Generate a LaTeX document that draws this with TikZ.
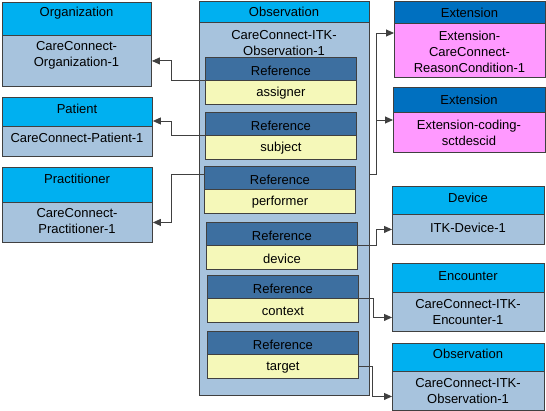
\documentclass[tikz,border=0pt]{standalone}
\usepackage{fontspec}
\setmainfont{Liberation Sans}
\usetikzlibrary{arrows.meta,calc}
\definecolor{hcyan}{HTML}{00B0F0}
\definecolor{bsteel}{HTML}{A7C3DD}
\definecolor{rhead}{HTML}{3D6FA0}
\definecolor{ryel}{HTML}{F5F8B9}
\definecolor{ehead}{HTML}{0070C0}
\definecolor{epink}{HTML}{FF99FF}
\definecolor{edge}{HTML}{404040}
\tikzset{
  bx/.style={draw=edge, line width=0.9pt, anchor=north west, inner sep=0pt},
  hcy/.style={bx, fill=hcyan},
  bst/.style={bx, fill=bsteel},
  rhd/.style={bx, fill=rhead},
  rby/.style={bx, fill=ryel},
  ehd/.style={bx, fill=ehead},
  epk/.style={bx, fill=epink},
  txt/.style={inner sep=0pt, align=center, font=\fontsize{13}{16}\selectfont},
  conn/.style={draw=edge, line width=0.9pt, -{Triangle[length=8pt,width=7pt]}},
}
\begin{document}
\begin{tikzpicture}[x=1pt,y=-1pt]
\useasboundingbox (0,0) rectangle (546,411);
% left boxes
\node[hcy, minimum width=149pt, minimum height=33pt] (orgH) at (2,2) {};
\node[bst, minimum width=149pt, minimum height=51pt] (orgB) at (2,35) {};
\node[txt] (orgHt) at (76.5,13) {Organization};
\node[txt] (orgBt) at (76.5,55) {CareConnect-\\Organization-1};

\node[hcy, minimum width=150pt, minimum height=29pt] (patH) at (2,97) {};
\node[bst, minimum width=150pt, minimum height=30pt] (patB) at (2,126) {};
\node[txt] (patHt) at (77,109) {Patient};
\node[txt] (patBt) at (77,138) {CareConnect-Patient-1};

\node[hcy, minimum width=150pt, minimum height=35pt] (pracH) at (2,167) {};
\node[bst, minimum width=150pt, minimum height=40pt] (pracB) at (2,202) {};
\node[txt] (pracHt) at (77,179) {Practitioner};
\node[txt] (pracBt) at (77,221.5) {CareConnect-\\Practitioner-1};

% main observation
\node[hcy, minimum width=170pt, minimum height=21pt] (obsH) at (199,1) {};
\node[bst, minimum width=170pt, minimum height=373pt] (obsB) at (199,22) {};
\node[txt] (obsHt) at (284,12) {Observation};
\node[txt] (obsBt) at (284,43) {CareConnect-ITK-\\Observation-1};

% references
\foreach \nm/\x/\y/\lab in {assigner/205/57/assigner, subject/205/112/subject, performer/204/166/performer, device/206/222/device, context/207/275/context, target/207/331/target}{
  \node[rhd, minimum width=151pt, minimum height=23pt] (\nm H) at (\x,\y) {};
  \node[rby, minimum width=151pt, minimum height=24pt] (\nm B) at (\x,\y+23) {};
  \node[txt] (\nm Ht) at ($(\nm H.north)+(0,13.5)$) {Reference};
  \node[txt] (\nm Bt) at ($(\nm B.center)+(0,1)$) {\lab};
}

% extensions
\node[ehd, minimum width=151pt, minimum height=22pt] (ext1H) at (394,1) {};
\node[epk, minimum width=151pt, minimum height=54pt] (ext1B) at (394,23) {};
\node[txt] (ext1Ht) at (469.5,13) {Extension};
\node[txt] (ext1Bt) at (469.5,52) {Extension-\\CareConnect-\\ReasonCondition-1};

\node[ehd, minimum width=152pt, minimum height=25pt] (ext2H) at (393,87) {};
\node[epk, minimum width=152pt, minimum height=40pt] (ext2B) at (393,112) {};
\node[txt] (ext2Ht) at (469,100) {Extension};
\node[txt] (ext2Bt) at (469,132.5) {Extension-coding-\\sctdescid};

% right boxes
\node[hcy, minimum width=152pt, minimum height=28pt] (devH) at (392,186) {};
\node[bst, minimum width=152pt, minimum height=30pt] (devB) at (392,214) {};
\node[txt] (devHt) at (468,198) {Device};
\node[txt] (devBt) at (468,228) {ITK-Device-1};

\node[hcy, minimum width=152pt, minimum height=29pt] (encH) at (392,263) {};
\node[bst, minimum width=152pt, minimum height=39pt] (encB) at (392,292) {};
\node[txt] (encHt) at (468,276) {Encounter};
\node[txt] (encBt) at (468,312.5) {CareConnect-ITK-\\Encounter-1};

\node[hcy, minimum width=152pt, minimum height=28pt] (obs2H) at (392,343) {};
\node[bst, minimum width=152pt, minimum height=39pt] (obs2B) at (392,371) {};
\node[txt] (obs2Ht) at (468,354) {Observation};
\node[txt] (obs2Bt) at (468,391) {CareConnect-ITK-\\Observation-1};

% connector anchor points
\coordinate (jL) at (171,0);
\coordinate (jR) at (376,0);
\coordinate (jC) at (373,0);
\coordinate (jT) at (372,0);
\coordinate (patIn) at ($(patB.north east)+(0,-5)$);
\coordinate (perfOut) at ($(performerH.north west)+(0,8)$);
\coordinate (obsOut) at ($(obsB.east |- performerH.north)+(0,8)$);
\coordinate (ext1In) at ($(ext1B.north west)+(0,10)$);
\coordinate (ext2In) at ($(ext2B.north west)+(0,8)$);
\coordinate (encIn) at ($(encB.west)+(0,5.5)$);
\coordinate (obs2In) at ($(obs2B.west)+(0,5.5)$);

% connectors
\draw[conn] (assignerB.north west) -- (assignerB.north west -| jL) |- (orgB.east);
\draw[conn] (subjectB.north west) -- (subjectB.north west -| jL) |- (patIn);
\draw[conn] (perfOut) -- (perfOut -| jL) |- (pracB.east);
\draw[conn] (obsOut) -- (obsOut -| jR) |- (ext1In);
\draw[conn] (ext2In -| jR) -- (ext2In);
\draw[conn] (deviceB.north east) -- (deviceB.north east -| jR) |- (devB.west);
\draw[conn] (contextB.north east) -- (contextB.north east -| jC) |- (encIn);
\draw[conn] (targetB.east) -- (targetB.east -| jT) |- (obs2In);
\end{tikzpicture}
\end{document}
